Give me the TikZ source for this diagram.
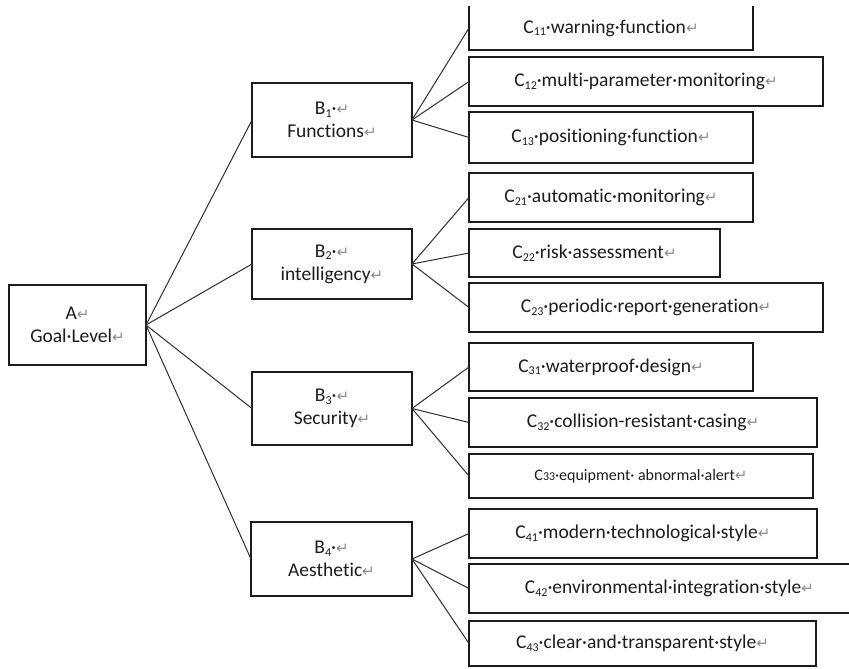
\documentclass[tikz,border=0pt]{standalone}
\usepackage{fontspec}
\setmainfont{Carlito}[Ligatures=NoCommon]
\newfontfamily\symfont{DejaVu Sans}
\definecolor{ink}{HTML}{1C1C1C}
\definecolor{linkc}{HTML}{2E2E2E}
\definecolor{markc}{HTML}{8C8C8C}
\newcommand{\parmark}{{\symfont\color{markc}\fontsize{15}{15}\selectfont ↵}}
\newcommand{\lowsub}[1]{\raisebox{-0.3ex}{\fontsize{12}{12}\selectfont #1}}
\tikzset{
  box/.style={draw=ink, line width=1.6pt, inner sep=0pt, outer sep=0pt, align=center,
    text=ink, font=\fontsize{19.5}{23}\selectfont},
  openbox/.style={box, draw=none},
  boxline/.style={draw=ink, line width=1.6pt},
  link/.style={draw=linkc, line width=1pt}
}
\begin{document}
\begin{tikzpicture}[x=1pt, y=-1pt]
\useasboundingbox (0,0) rectangle (849,669);
\begin{scope}
\clip (0,0) rectangle (849,669);
% level A
\node[box, minimum width=137, minimum height=80] (a) at (77.5,325) {A\parmark\\Goal·Level\parmark};
% level B
\node[box, minimum width=160, minimum height=74] (b1) at (332,120) {B\lowsub{1}·\parmark\\Functions\parmark};
\node[box, minimum width=160, minimum height=70] (b2) at (332,264) {B\lowsub{2}·\parmark\\intelligency\parmark};
\node[box, minimum width=160, minimum height=73] (b3) at (332,408.5) {B\lowsub{3}·\parmark\\Security\parmark};
\node[box, minimum width=161, minimum height=74] (b4) at (331.5,559) {B\lowsub{4}·\parmark\\Aesthetic\parmark};
% level C
\node[openbox, minimum width=284, minimum height=44] (c11) at (611,28) {C\lowsub{11}·warning·function\parmark};
\draw[boxline] (c11.north west) -- (c11.south west) -- (c11.south east) -- (c11.north east);
\node[box, minimum width=354, minimum height=49] (c12) at (646,81.5) {C\lowsub{12}·multi-parameter·monitoring\parmark};
\node[box, minimum width=284, minimum height=51] (c13) at (611,137.5) {C\lowsub{13}·positioning·function\parmark};
\node[box, minimum width=284, minimum height=49] (c21) at (611,197.5) {C\lowsub{21}·automatic·monitoring\parmark};
\node[box, minimum width=251, minimum height=48] (c22) at (594.5,253) {C\lowsub{22}·risk·assessment\parmark};
\node[box, minimum width=354, minimum height=49] (c23) at (646,307.5) {C\lowsub{23}·periodic·report·generation\parmark};
\node[box, minimum width=284, minimum height=48] (c31) at (611,367) {C\lowsub{31}·waterproof·design\parmark};
\node[box, minimum width=348, minimum height=49] (c32) at (643,422.5) {C\lowsub{32}·collision-resistant·casing\parmark};
\node[box, minimum width=344, minimum height=44, font=\fontsize{16}{19}\selectfont] (c33) at (641,476) {C{\fontsize{12}{12}\selectfont 33}·equipment·\ abnormal·alert\parmark};
\node[box, minimum width=348, minimum height=49] (c41) at (643,533.5) {C\lowsub{41}·modern·technological·style\parmark};
\node[box, minimum width=401, minimum height=49] (c42) at (669.5,588.5) {C\lowsub{42}·environmental·integration·style\parmark};
\node[box, minimum width=347, minimum height=45] (c43) at (642.5,643.5) {C\lowsub{43}·clear·and·transparent·style\parmark};
% connectors
\foreach \b in {b1,b2,b3,b4} \draw[link] (a.east) -- (\b.west);
\foreach \c in {c11,c12,c13} \draw[link] (b1.east) -- (\c.west);
\foreach \c in {c21,c22,c23} \draw[link] (b2.east) -- (\c.west);
\foreach \c in {c31,c32,c33} \draw[link] (b3.east) -- (\c.west);
\foreach \c in {c41,c42,c43} \draw[link] (b4.east) -- (\c.west);
\end{scope}
\end{tikzpicture}
\end{document}
